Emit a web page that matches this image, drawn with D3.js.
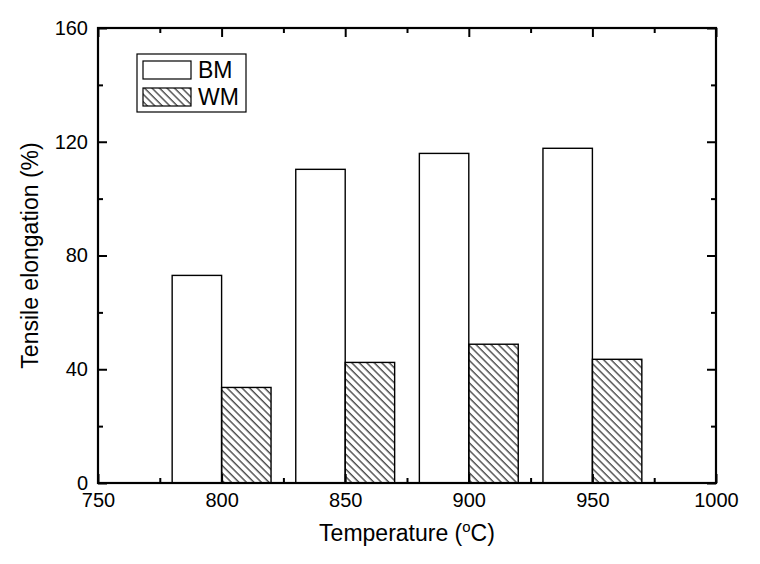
<!DOCTYPE html>
<html>
<head>
<meta charset="utf-8">
<script src="https://cdn.jsdelivr.net/npm/d3@7"></script>
<style>
  body { margin: 0; background: #fff; }
  text { font-family: "Liberation Sans", Arial, sans-serif; fill: #000; }
  .axis path { display: none; }
  .axis line { stroke: #000; stroke-width: 2; }
</style>
</head>
<body>
<div id="chart"></div>
<script>
// data
var temps = [800, 850, 900, 950];
var bmValues = [73.0, 110.3, 115.9, 117.7];
var wmValues = [33.6, 42.4, 48.8, 43.5];
var xTicks = [750, 800, 850, 900, 950, 1000];
var xMinor = [775, 825, 875, 925, 975];
var yTicks = [0, 40, 80, 120, 160];
var yMinor = [20, 60, 100, 140];
var seriesNames = ['BM', 'WM'];

var W = 760, H = 564;
var margin = { top: 28, right: 44, bottom: 81, left: 98 };
var width = W - margin.left - margin.right,
  height = H - margin.top - margin.bottom;
var barSpan = 20; // in temperature units

var svg = d3.select('#chart').append('svg')
  .attr('width', W)
  .attr('height', H);

// hatch pattern
var defs = svg.append('defs');
defs.append('pattern')
  .attr('id', 'hatch')
  .attr('patternUnits', 'userSpaceOnUse')
  .attr('width', 5.3)
  .attr('height', 10)
  .attr('patternTransform', 'rotate(-45)')
  .append('line')
  .attr('x1', 1).attr('y1', -1)
  .attr('x2', 1).attr('y2', 11)
  .attr('stroke', '#000')
  .attr('stroke-width', 1);

var g = svg.append('g')
  .attr('transform', translation(margin.left, margin.top));

var x = d3.scaleLinear().domain([750, 1000]).range([0, width]);
var y = d3.scaleLinear().domain([0, 160]).range([height, 0]);

// bars
g.selectAll('.bar.bm')
  .data(temps)
  .enter().append('rect')
  .attr('class', 'bar bm')
  .attr('x', function (d) { return x(d - barSpan); })
  .attr('y', function (d, i) { return y(bmValues[i]); })
  .attr('width', function (d) { return x(d) - x(d - barSpan); })
  .attr('height', function (d, i) { return y(0) - y(bmValues[i]); })
  .attr('fill', '#fff')
  .attr('stroke', '#000')
  .attr('stroke-width', 1.4);

g.selectAll('.bar.wm')
  .data(temps)
  .enter().append('rect')
  .attr('class', 'bar wm')
  .attr('x', function (d) { return x(d); })
  .attr('y', function (d, i) { return y(wmValues[i]); })
  .attr('width', function (d) { return x(d + barSpan) - x(d); })
  .attr('height', function (d, i) { return y(0) - y(wmValues[i]); })
  .attr('fill', 'url(#hatch)')
  .attr('stroke', '#000')
  .attr('stroke-width', 1.4);

// axes (ticks point inward)
var major = 9, minor = 5;
g.append('g').attr('class', 'axis x bottom')
  .attr('transform', translation(0, height))
  .call(d3.axisBottom(x).tickValues(xTicks).tickSize(-major).tickPadding(10).tickFormat(d3.format('d')))
  .selectAll('text').style('font-size', '20px');
g.append('g').attr('class', 'axis x bottom minor')
  .attr('transform', translation(0, height))
  .call(d3.axisBottom(x).tickValues(xMinor).tickSize(-minor).tickFormat(''));
g.append('g').attr('class', 'axis x top')
  .call(d3.axisTop(x).tickValues(xTicks).tickSize(-major).tickFormat(''));
g.append('g').attr('class', 'axis x top minor')
  .call(d3.axisTop(x).tickValues(xMinor).tickSize(-minor).tickFormat(''));

g.append('g').attr('class', 'axis y left')
  .call(d3.axisLeft(y).tickValues(yTicks).tickSize(-major).tickPadding(10))
  .selectAll('text').style('font-size', '20px');
g.append('g').attr('class', 'axis y left minor')
  .call(d3.axisLeft(y).tickValues(yMinor).tickSize(-minor).tickFormat(''));
g.append('g').attr('class', 'axis y right')
  .attr('transform', translation(width, 0))
  .call(d3.axisRight(y).tickValues(yTicks).tickSize(-major).tickFormat(''));
g.append('g').attr('class', 'axis y right minor')
  .attr('transform', translation(width, 0))
  .call(d3.axisRight(y).tickValues(yMinor).tickSize(-minor).tickFormat(''));

// frame
g.append('rect')
  .attr('width', width).attr('height', height)
  .attr('fill', 'none').attr('stroke', '#000').attr('stroke-width', 2.2);

// axis titles
var xt = g.append('text')
  .attr('x', width / 2)
  .attr('y', height + 58)
  .attr('text-anchor', 'middle')
  .style('font-size', '23px');
xt.append('tspan').text('Temperature (');
xt.append('tspan').attr('dy', -9).style('font-size', '15px').text('o');
xt.append('tspan').attr('dy', 9).text('C)');

g.append('text')
  .attr('transform', translation(-60, height / 2) + 'rotate(-90)')
  .attr('text-anchor', 'middle')
  .style('font-size', '23px')
  .text('Tensile elongation (%)');

// legend
var legend = g.append('g').attr('transform', translation(39, 26));
legend.append('rect')
  .attr('width', 109).attr('height', 58)
  .attr('fill', '#fff').attr('stroke', '#000').attr('stroke-width', 1.2);
var item = legend.selectAll('.item')
  .data(seriesNames)
  .enter().append('g')
  .attr('class', 'item')
  .attr('transform', function (d, i) { return translation(6, 7 + i * 27); });
item.append('rect')
  .attr('width', 48).attr('height', 18)
  .attr('fill', function (d, i) { return i === 0 ? '#fff' : 'url(#hatch)'; })
  .attr('stroke', '#000').attr('stroke-width', 1.2);
item.append('text')
  .attr('x', 55).attr('y', 17)
  .style('font-size', '23px')
  .text(function (d) { return d; });

function translation(x, y) {
  return 'translate(' + x + ',' + y + ')';
}
</script>
</body>
</html>
